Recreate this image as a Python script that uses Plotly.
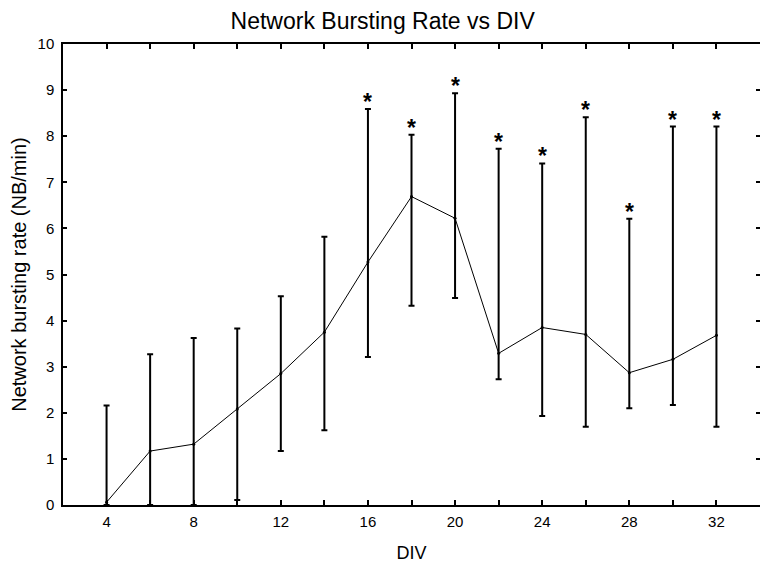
import plotly.graph_objects as go

div = [4, 6, 8, 10, 12, 14, 16, 18, 20, 22, 24, 26, 28, 30, 32]
mean_rate = [0.06, 1.17, 1.32, 2.08, 2.85, 3.75, 5.27, 6.69, 6.22, 3.29, 3.85, 3.70, 2.87, 3.16, 3.68]
upper = [2.16, 3.27, 3.62, 3.83, 4.53, 5.82, 8.59, 8.03, 8.93, 7.73, 7.41, 8.41, 6.21, 8.21, 8.21]
lower = [0.0, 0.0, 0.0, 0.11, 1.17, 1.62, 3.21, 4.32, 4.49, 2.73, 1.93, 1.70, 2.10, 2.17, 1.70]
significant = [False, False, False, False, False, False, True, True, True, True, True, True, True, True, True]

x_tickvals = [4, 6, 8, 10, 12, 14, 16, 18, 20, 22, 24, 26, 28, 30, 32]
x_ticktext = ["4", "", "8", "", "12", "", "16", "", "20", "", "24", "", "28", "", "32"]
y_tickvals = [0, 1, 2, 3, 4, 5, 6, 7, 8, 9, 10]

err_plus = [u - m for u, m in zip(upper, mean_rate)]
err_minus = [m - l for m, l in zip(mean_rate, lower)]

fig = go.Figure()
fig.add_trace(go.Scatter(
    x=div, y=mean_rate, mode="lines+markers",
    line=dict(color="black", width=1),
    marker=dict(color="black", size=3),
    error_y=dict(type="data", symmetric=False, array=err_plus, arrayminus=err_minus,
                 color="black", thickness=2, width=3),
    showlegend=False, hoverinfo="skip",
))

for d, u, s in zip(div, upper, significant):
    if s:
        fig.add_annotation(x=d, y=u, text="<b>*</b>", showarrow=False,
                           xanchor="center", yanchor="middle", yshift=7,
                           font=dict(family="Liberation Sans", size=23, color="black"))

font = "Liberation Sans, Arial, sans-serif"
# page body has an 8px default margin; figure sized so the plot lands where the reference has it
fig.update_layout(
    width=760, height=562,
    margin=dict(l=55, r=8, t=36, b=65),
    paper_bgcolor="white", plot_bgcolor="white",
    font=dict(family=font, size=15, color="black"),
    title=dict(text="Network Bursting Rate vs DIV", x=0.493, xanchor="center",
               y=0.977, yanchor="middle", font=dict(family=font, size=23, color="black")),
    xaxis=dict(range=[2, 34], tickvals=x_tickvals, ticktext=x_ticktext,
               ticks="inside", ticklen=5, tickwidth=1.5, tickcolor="black",
               showline=True, linecolor="black", linewidth=1.5, mirror="ticks",
               showgrid=False, zeroline=False, ticklabelstandoff=2,
               tickfont=dict(size=15), automargin=False,
               title=dict(text="DIV", font=dict(size=18), standoff=18)),
    yaxis=dict(range=[0, 10], tickvals=y_tickvals,
               ticks="inside", ticklen=4, tickwidth=1.5, tickcolor="black",
               showline=True, linecolor="black", linewidth=1.5, mirror="ticks",
               showgrid=False, zeroline=False, ticklabelstandoff=4,
               tickfont=dict(size=15), automargin=False,
               title=dict(text="Network bursting rate (NB/min)", font=dict(size=20), standoff=12)),
)

fig.write_html("out.html")
